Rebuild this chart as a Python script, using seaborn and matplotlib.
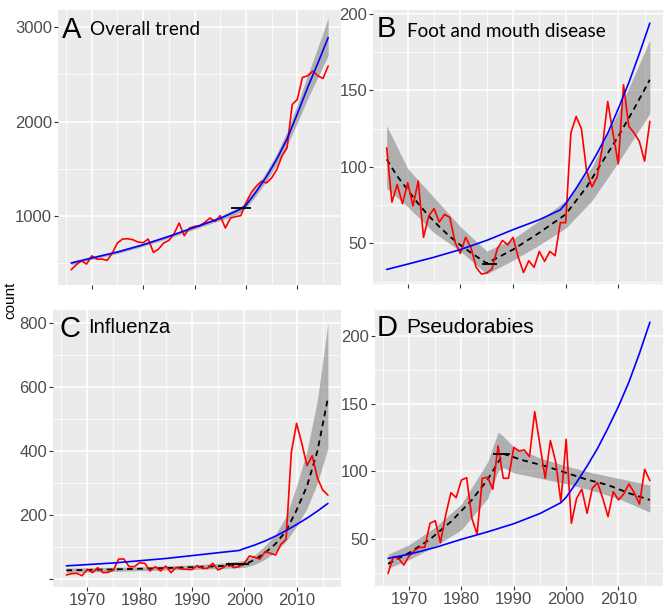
import numpy as np
import pandas as pd
import matplotlib
matplotlib.use("Agg")
import matplotlib.pyplot as plt
from matplotlib.ticker import FixedLocator
import seaborn as sns

years = list(range(1966, 2017))

red_A = [426, 479, 521, 486, 574, 539, 539, 525, 603, 710,
         752, 755, 745, 720, 713, 752, 610, 645, 710, 737,
         805, 922, 787, 869, 886, 890, 929, 975, 940, 1000,
         869, 975, 990, 1000, 1135, 1241, 1312, 1365, 1348, 1401,
         1489, 1631, 1720, 2180, 2234, 2468, 2485, 2535, 2485, 2457, 2589]
red_B = [112.5, 77, 88.6, 76, 89.7, 74.5, 90.8, 54, 68, 72.8,
         64, 69, 67, 50.7, 43.5, 54, 47.4, 34.4, 30, 30.7,
         33.3, 46.3, 52, 49, 54, 41, 31, 38.7, 34.4, 44.8,
         38.3, 44.8, 42, 63.7, 63.5, 122.3, 133, 125, 97, 87,
         93.5, 113.5, 142.8, 122, 102, 153.7, 126.6, 122.3, 116.8, 103.8, 129.8]
red_C = [12.5, 16.7, 17.7, 10.4, 30.2, 19.8, 35.4, 19.8, 20.8, 28,
         62.5, 62.5, 38.5, 38.5, 51, 49, 25, 38.5, 25, 40.6,
         19.8, 36.5, 31.3, 30.2, 29.2, 41.7, 33.3, 33.3, 49, 28,
         35.4, 49, 35.4, 38.5, 49, 71.9, 67.7, 62.5, 85.4, 80.2,
         75, 108, 124, 395, 486, 424, 354, 385, 315, 278, 262]
red_D = [24.9, 37.2, 36, 31, 37.7, 41.6, 44.1, 44.1, 61.8, 63.7,
         47.5, 67.9, 84.4, 80.7, 93.7, 95.4, 65.5, 53.7, 95, 95.7,
         86.9, 118.8, 95, 95, 117.8, 115.1, 115.9, 110.9, 144.1, 119.5,
         95, 122.7, 107.2, 77.7, 123.7, 61.8, 80.2, 86.9, 69.2, 87.6,
         91.7, 80.2, 66.7, 85.1, 79, 83.4, 90.8, 84.4, 76, 101.6, 93.2]

# overall trend (blue)
trend_yr = [1966, 1970, 1975, 1980, 1985, 1990, 1995, 1999, 2000,
            2002, 2004, 2006, 2008, 2010, 2012, 2014, 2016]
trend_A = [497, 550, 614, 691, 780, 876, 971, 1071, 1110, 1255, 1415, 1600, 1815, 2080, 2360, 2620, 2890]
trend_B = [33, 36.5, 41, 46, 52, 59, 65.5, 72, 76, 86, 97, 109, 122, 138, 155, 174, 194]
trend_C = [41, 45, 50, 57, 64, 73, 82, 89, 95, 106, 119, 134, 151, 170, 190, 212, 236]
trend_D = [36, 39, 44, 50, 55.5, 61.5, 69, 77, 81, 92, 104, 117, 132, 148, 166, 187, 210]

# segmented fit (dashed) with confidence band
fit_yr_B = [1966, 1968, 1970, 1972, 1974, 1976, 1978, 1980, 1982, 1985,
            1990, 1995, 2000, 2004, 2008, 2010, 2013, 2016]
fit_B = [105, 94, 85, 76, 68, 61, 54.5, 49, 44, 37, 46, 57, 69, 87, 109, 120, 138, 157]
fit_yr_C = [1966, 1975, 1985, 1995, 2000, 2002, 2004, 2006, 2008, 2010, 2012, 2014, 2016]
fit_C = [27, 30, 34, 40, 45, 60, 82, 110, 150, 215, 290, 400, 565]
fit_yr_D = [1966, 1970, 1974, 1978, 1982, 1985, 1988, 1992, 1996, 2000, 2004, 2008, 2012, 2016]
fit_D = [32, 40, 50, 63, 79, 94, 113, 108, 104, 99, 94, 90, 84, 79]

band_yr_A = [1966, 1970, 1975, 1980, 1985, 1990, 1995, 1998, 1999, 2000,
             2002, 2004, 2006, 2008, 2010, 2012, 2014, 2016]
band_lo_A = [480, 535, 598, 675, 762, 857, 950, 1010, 1040, 1080, 1215, 1370, 1545, 1745, 1985, 2240, 2470, 2700]
band_hi_A = [515, 566, 630, 707, 797, 895, 995, 1075, 1100, 1150, 1300, 1470, 1660, 1890, 2180, 2490, 2790, 3100]
band_yr_B = [1966, 1970, 1975, 1980, 1985, 1990, 1995, 2000, 2005, 2010, 2016]
band_lo_B = [86, 74, 57, 45, 30, 39, 49, 60, 78, 103, 135]
band_hi_B = [127, 99, 80, 61, 45, 53, 65, 78, 100, 136, 183]
band_yr_C = [1966, 1980, 1990, 1996, 2000, 2002, 2004, 2006, 2008, 2010, 2012, 2014, 2016]
band_lo_C = [20, 26, 30, 33, 36, 45, 62, 85, 118, 165, 220, 300, 408]
band_hi_C = [34, 38, 44, 50, 58, 75, 104, 140, 195, 290, 400, 560, 799]
band_yr_D = [1966, 1970, 1975, 1980, 1985, 1987, 1988, 1990, 1995, 2000, 2005, 2010, 2016]
band_lo_D = [28.6, 35, 45, 57, 80, 100, 103, 99, 95, 91, 86, 80, 70]
band_hi_D = [39, 46, 59, 76, 107, 129, 126, 118, 110, 104, 99, 95, 90]

# breakpoint interval (from, to, level)
bp_A = (1997.1, 2000.9, 1080)
bp_B = (1984.1, 1986.9, 36.5)
bp_C = (1996.5, 2001.0, 46)
bp_D = (1986.1, 1989.2, 113)

x_major = [1970, 1980, 1990, 2000, 2010]
x_minor = [1965, 1975, 1985, 1995, 2005, 2015]

sns.set_style("darkgrid", {"axes.facecolor": "#EBEBEB", "grid.color": "white"})
plt.rcParams['font.family'] = ['Liberation Sans', 'DejaVu Sans']
plt.rcParams['text.color'] = 'black'
plt.rcParams['lines.dashed_pattern'] = [3.2, 2.4]

W, H = 669, 609
fig = plt.figure(figsize=(W / 100, H / 100), dpi=100)


def add_panel(l, r, t, b):
    return fig.add_axes([l / W, 1 - b / H, (r - l) / W, (b - t) / H])


def draw_panel(ax, red, trend, band_yr, lo, hi, bp, ylim, y_major, y_minor,
               fit_yr=None, fit=None, show_x=False, y_labels=None):
    ax.fill_between(band_yr, lo, hi, color='#7F7F7F', alpha=0.55, lw=0, zorder=2)
    if fit is not None:
        sns.lineplot(x=fit_yr, y=fit, ax=ax, color='black', linestyle='--', lw=1.3, zorder=3)
    sns.lineplot(x=years, y=red, ax=ax, color='red', lw=1.2, zorder=4)
    sns.lineplot(x=trend_yr, y=trend, ax=ax, color='blue', lw=1.2, zorder=5)
    ax.hlines(bp[2], bp[0], bp[1], color='black', lw=1.3, zorder=6)

    ax.set_xlim(1963.5, 2018.5)
    ax.set_ylim(*ylim)
    ax.xaxis.set_major_locator(FixedLocator(x_major))
    ax.xaxis.set_minor_locator(FixedLocator(x_minor))
    ax.yaxis.set_major_locator(FixedLocator(y_major))
    ax.yaxis.set_minor_locator(FixedLocator(y_minor))
    ax.grid(which='major', color='white', lw=1.1)
    ax.grid(which='minor', color='white', lw=0.55)
    ax.set_axisbelow(True)
    ax.tick_params(which='major', bottom=True, left=True, length=3, width=0.8,
                   color='#333333', labelsize=12, labelcolor='#4D4D4D', pad=1.5)
    ax.tick_params(which='minor', length=0)
    if show_x:
        ax.set_xticklabels([str(v) for v in x_major])
    else:
        ax.set_xticklabels([])
    if y_labels is not None:
        ax.set_yticklabels(y_labels)
    ax.set_xlabel('')
    ax.set_ylabel('')
    for s in ax.spines.values():
        s.set_visible(False)


axA = add_panel(58.3, 341, 10, 285)
draw_panel(axA, red_A, trend_A, band_yr_A, band_lo_A, band_hi_A, bp_A,
           (264, 3184), [1000, 2000, 3000], [500, 1500, 2500])
axA.text(0.013, 0.898, 'A', transform=axA.transAxes, fontsize=21, color='black')
axA.text(0.112, 0.91, 'Overall trend', transform=axA.transAxes, fontsize=13.6,
         color='black', family=['Lato', 'DejaVu Sans'])

axB = add_panel(373.5, 663, 10, 284)
draw_panel(axB, red_B, trend_B, band_yr_B, band_lo_B, band_hi_B, bp_B,
           (23.5, 202.6), [50, 100, 150, 200], [25, 75, 125, 175],
           fit_yr=fit_yr_B, fit=fit_B)
axB.text(0.011, 0.9026, 'B', transform=axB.transAxes, fontsize=21, color='black')
axB.text(0.115, 0.9026, 'Foot and mouth disease', transform=axB.transAxes, fontsize=13.6,
         color='black', family=['Lato', 'DejaVu Sans'])

axC = add_panel(53.3, 341, 310, 587)
draw_panel(axC, red_C, trend_C, band_yr_C, band_lo_C, band_hi_C, bp_C,
           (-25, 840), [0, 200, 400, 600, 800], [100, 300, 500, 700],
           fit_yr=fit_yr_C, fit=fit_C, show_x=True,
           y_labels=['', '200', '400', '600', '800'])
axC.text(0.023, 0.9036, 'C', transform=axC.transAxes, fontsize=21, color='black')
axC.text(0.122, 0.916, 'Influenza', transform=axC.transAxes, fontsize=14.6, color='black')

axD = add_panel(375, 663, 310, 586)
draw_panel(axD, red_D, trend_D, band_yr_D, band_lo_D, band_hi_D, bp_D,
           (15.6, 219), [50, 100, 150, 200], [25, 75, 125, 175],
           fit_yr=fit_yr_D, fit=fit_D, show_x=True)
axD.text(0.006, 0.906, 'D', transform=axD.transAxes, fontsize=21, color='black')
axD.text(0.108, 0.9155, 'Pseudorabies', transform=axD.transAxes, fontsize=15, color='black')

fig.text(10 / W, 1 - 300 / H, 'count', rotation=90, ha='center', va='center',
         fontsize=11, color='black')

fig.savefig('out.png', dpi=100)
